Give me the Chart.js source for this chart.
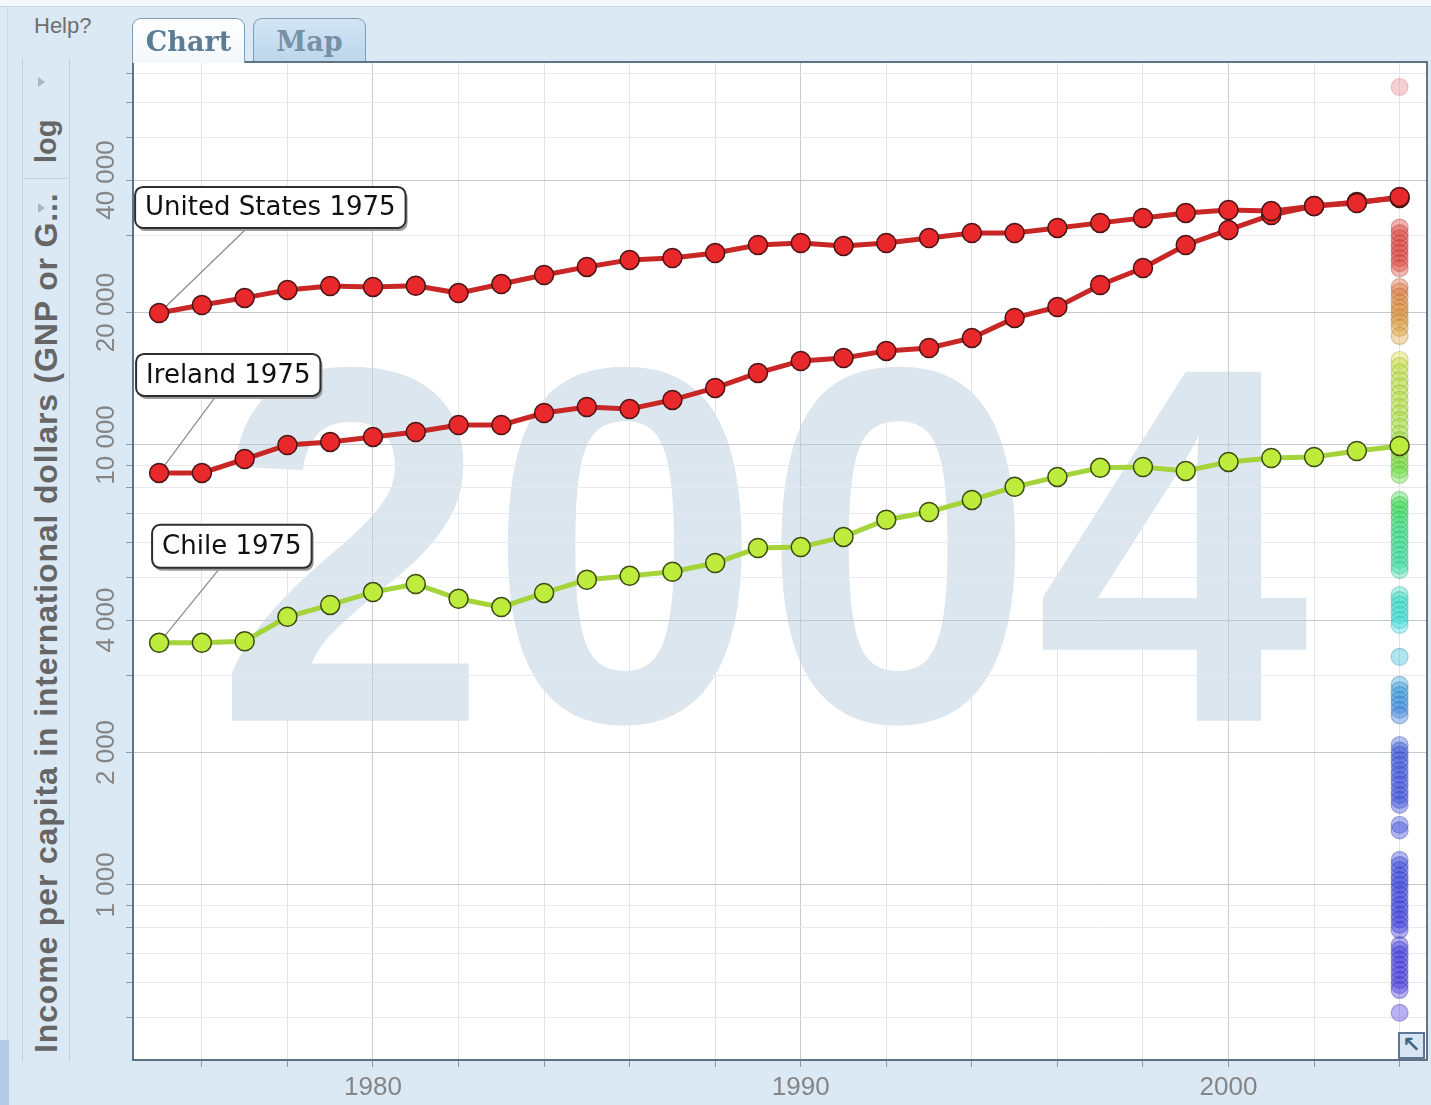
<!DOCTYPE html>
<html>
<head>
<meta charset="utf-8">
<script src="https://cdn.jsdelivr.net/npm/chart.js@4.4.1/dist/chart.umd.min.js"></script>
<style>
  html, body { margin: 0; padding: 0; }
  body {
    width: 1431px; height: 1105px; position: relative; overflow: hidden;
    background: #dbe9f5; font-family: "Liberation Sans", Arial, sans-serif;
  }
  #topStrip { position: absolute; left: 0; top: 0; width: 1431px; height: 6px; background: #f4f8fb; border-bottom: 1px solid #c4d7e7; }
  #edge { position: absolute; left: 7px; top: 7px; width: 1px; height: 1098px; background: #c9dbe9; }
  #corner { position: absolute; left: 0; top: 1040px; width: 9px; height: 65px; background: #b3cbe4; }
  #help { position: absolute; left: 34px; top: 13px; font-size: 22px; color: #6f6f6f; }
  .tab {
    position: absolute; top: 18px; height: 43px; border: 1px solid #7e9db6; border-bottom: none;
    border-radius: 9px 9px 0 0; font: bold 27px "DejaVu Serif", serif; text-align: center;
    line-height: 46px; box-sizing: border-box;
  }
  #tabChart { left: 132px; width: 113px; height: 45px; background: linear-gradient(#ffffff, #f3f8fc); color: #5d7c95; z-index: 3; }
  #tabMap { left: 253px; width: 113px; background: linear-gradient(#d3e5f4, #bcd6ec); color: #7891a7; }
  #sideCol { position: absolute; left: 22px; top: 58px; width: 46px; height: 1004px; border-left: 1px solid #bdd2e3; border-right: 1px solid #bdd2e3; }
  #logBtn { position: absolute; left: 24px; top: 60px; width: 44px; height: 118px; border-bottom: 1px solid #bdd2e3; }
  .tri { position: absolute; left: 38px; width: 0; height: 0; border-top: 5px solid transparent; border-bottom: 5px solid transparent; border-left: 7px solid #a9b6c2; }
  .vtext {
    position: absolute; transform-origin: 0 0; transform: rotate(-90deg);
    font-weight: bold; color: #666; white-space: nowrap;
  }
  #logText { left: 30px; top: 163px; font-size: 29px; }
  #axisTitle { left: 28px; top: 1053px; font-size: 32px; letter-spacing: 0.85px; }
  #resize {
    position: absolute; left: 1398px; top: 1032px; width: 27px; height: 27px; box-sizing: border-box;
    border: 2px solid #5b7793; background: #d7e6f2; color: #3f6484;
    font: bold 22px "DejaVu Sans"; line-height: 22px; text-align: center; z-index: 3;
  }
  #chartBox { position: absolute; left: 0; top: 0; width: 1431px; height: 1105px; z-index: 2; }
</style>
</head>
<body>
<div id="topStrip"></div>
<div id="edge"></div>
<div id="corner"></div>
<div id="help">Help?</div>
<div class="tab" id="tabChart">Chart</div>
<div class="tab" id="tabMap">Map</div>
<div id="sideCol"></div>
<div id="logBtn"></div>
<div class="tri" style="top:77px"></div>
<div class="tri" style="top:203px"></div>
<div class="vtext" id="logText">log</div>
<div class="vtext" id="axisTitle">Income per capita in international dollars (GNP or G...</div>
<div id="chartBox"><canvas id="chart" width="1431" height="1105"></canvas></div>
<div id="resize">↖</div>

<script>
// Anos e renda per capita (dólares internacionais)
const years = [1975, 1976, 1977, 1978, 1979, 1980, 1981, 1982, 1983, 1984,
  1985, 1986, 1987, 1988, 1989, 1990, 1991, 1992, 1993, 1994,
  1995, 1996, 1997, 1998, 1999, 2000, 2001, 2002, 2003, 2004];

const usIncome = [19950, 20800, 21590, 22510, 22980, 22870, 23000, 22140, 23210, 24340,
  25390, 26340, 26610, 27310, 28480, 28780, 28340, 28780, 29530, 30330,
  30330, 31140, 31970, 32810, 33680, 34210, 34000, 34930, 35480, 36620];

const irelandIncome = [8640, 8640, 9290, 10000, 10160, 10430, 10700, 11100, 11100, 11820,
  12200, 12070, 12660, 13480, 14580, 15520, 15760, 16360, 16610, 17510,
  19440, 20590, 23100, 25240, 28480, 30810, 33320, 34930, 35660, 36420];

const chileIncome = [3550, 3550, 3580, 4070, 4330, 4630, 4830, 4470, 4280, 4610,
  4940, 5040, 5150, 5390, 5830, 5860, 6180, 6760, 7040, 7500,
  8030, 8460, 8870, 8910, 8730, 9150, 9340, 9390, 9690, 9950];

// Outros países em 2004 (coluna de pontos à direita)
const otherYear = 2004;
const others2004 = [65100, 31200, 30300, 29500, 28700, 28000, 27300, 26600, 25900, 25200,
  22860, 22300, 21700, 21020, 20500, 20050, 19500, 19000, 18450, 17690,
  15600, 15100, 14600, 14050, 13600, 13100, 12660, 12200, 11800, 11400,
  11000, 10600, 10260, 9750, 9490, 9250, 9010, 8780, 8550, 7500,
  7300, 7120, 6940, 6760, 6580, 6410, 6250, 6090, 5930, 5770,
  5620, 5480, 5330, 5200, 4560, 4440, 4330, 4220, 4110, 4000,
  3900, 3300, 2850, 2770, 2700, 2630, 2570, 2500, 2430, 2080,
  2020, 1975, 1920, 1875, 1820, 1780, 1730, 1690, 1640, 1600,
  1560, 1520, 1370, 1330, 1140, 1110, 1080, 1050, 1025, 1000,
  975, 950, 925, 900, 880, 855, 835, 812, 790, 730,
  712, 694, 676, 658, 641, 624, 608, 592, 577, 512];

const seriesNames = ['United States', 'Ireland', 'Chile'];
const labelYear = 1975;
const watermarkYear = '2004';

// Eixos
const xTickYears = [1976, 1978, 1980, 1982, 1984, 1986, 1988, 1990, 1992, 1994, 1996, 1998, 2000, 2002, 2004];
const xLabelYears = [1980, 1990, 2000];
const yGridValues = [500, 600, 700, 800, 900, 1000, 2000, 3000, 4000, 5000, 6000, 7000, 8000, 9000,
  10000, 20000, 30000, 40000, 50000, 60000, 70000];
const yLabelValues = [1000, 2000, 4000, 10000, 20000, 40000];

const toPoints = (vals) => vals.map((v, i) => ({ x: years[i], y: v }));

// Cor por renda (vermelho = rico, azul/roxo = pobre)
const hueStops = [[60000, 0], [26000, 2], [21000, 28], [17000, 42], [15000, 72], [10500, 82],
  [9000, 98], [6500, 145], [4500, 170], [3300, 192], [2600, 208], [2000, 230], [1000, 236], [500, 248]];
function hueFor(v) {
  if (v >= hueStops[0][0]) return hueStops[0][1];
  for (let i = 1; i < hueStops.length; i++) {
    const [v1, h1] = hueStops[i - 1], [v2, h2] = hueStops[i];
    if (v >= v2) {
      const t = (Math.log(v1) - Math.log(v)) / (Math.log(v1) - Math.log(v2));
      return h1 + (h2 - h1) * t;
    }
  }
  return hueStops[hueStops.length - 1][1];
}
const otherFill = others2004.map(v => v > 50000 ? 'rgba(225,120,130,0.35)' : `hsla(${hueFor(v)},70%,55%,0.4)`);
const otherLine = others2004.map(v => v > 50000 ? 'rgba(210,110,120,0.3)' : `hsla(${hueFor(v)},60%,38%,0.35)`);

const fmtNum = (v) => String(v).replace(/\B(?=(\d{3})+(?!\d))/g, ' ');

const labelStyle = [
  { ds: 0, dx: -24, dy: -126, h: 41, lead: 88 },
  { ds: 1, dx: -23, dy: -119, h: 42, lead: 57 },
  { ds: 2, dx: -7, dy: -118, h: 43, lead: 61 }
];

function roundRect(ctx, x, y, w, h, r) {
  ctx.beginPath();
  ctx.moveTo(x + r, y);
  ctx.arcTo(x + w, y, x + w, y + h, r);
  ctx.arcTo(x + w, y + h, x, y + h, r);
  ctx.arcTo(x, y + h, x, y, r);
  ctx.arcTo(x, y, x + w, y, r);
  ctx.closePath();
}

const decor = {
  id: 'decor',
  beforeDraw(chart) {
    const { ctx, chartArea: a } = chart;
    ctx.save();
    ctx.fillStyle = '#ffffff';
    ctx.fillRect(a.left, a.top, a.width, a.height);
    // ano grande ao fundo
    ctx.fillStyle = '#dbe6ef';
    ctx.font = 'bold 507px "Liberation Sans"';
    ctx.textAlign = 'center';
    ctx.textBaseline = 'alphabetic';
    ctx.translate(a.left + a.width * 0.486, a.top + a.height * 0.66);
    ctx.scale(0.97, 1);
    ctx.fillText(watermarkYear, 0, 0);
    ctx.restore();
  },
  beforeDatasetsDraw(chart) {
    const { ctx, chartArea: a, scales } = chart;
    ctx.save();
    // moldura do gráfico
    ctx.strokeStyle = '#5f7385';
    ctx.lineWidth = 2;
    ctx.strokeRect(a.left, a.top, a.width, a.height);
    // rótulos do eixo Y (girados)
    ctx.fillStyle = '#858585';
    ctx.font = '26px "Liberation Sans"';
    ctx.textAlign = 'center';
    ctx.textBaseline = 'middle';
    yLabelValues.forEach(v => {
      const y = scales.y.getPixelForValue(v);
      ctx.save();
      ctx.translate(a.left - 26, y);
      ctx.rotate(-Math.PI / 2);
      ctx.fillText(fmtNum(v), 0, 0);
      ctx.restore();
    });
    // rótulos do eixo X
    xLabelYears.forEach(v => {
      ctx.fillText(String(v), scales.x.getPixelForValue(v), a.bottom + 28);
    });
    // linhas-guia das etiquetas
    ctx.strokeStyle = '#8a8a8a';
    ctx.lineWidth = 1.2;
    labelStyle.forEach(s => {
      const p = chart.getDatasetMeta(s.ds).data[0];
      ctx.beginPath();
      ctx.moveTo(p.x + s.lead, p.y + s.dy + s.h);
      ctx.lineTo(p.x, p.y);
      ctx.stroke();
    });
    ctx.restore();
  },
  afterDatasetsDraw(chart) {
    const { ctx } = chart;
    ctx.save();
    ctx.font = '26px "DejaVu Sans"';
    ctx.textBaseline = 'middle';
    labelStyle.forEach(s => {
      const p = chart.getDatasetMeta(s.ds).data[0];
      const text = seriesNames[s.ds] + ' ' + labelYear;
      const w = ctx.measureText(text).width + 20;
      const x = p.x + s.dx, y = p.y + s.dy;
      roundRect(ctx, x + 2, y + 3, w, s.h, 8);
      ctx.fillStyle = '#9a9a9a';
      ctx.fill();
      roundRect(ctx, x, y, w, s.h, 8);
      ctx.fillStyle = '#ffffff';
      ctx.fill();
      ctx.strokeStyle = '#2e2e2e';
      ctx.lineWidth = 2;
      ctx.stroke();
      ctx.fillStyle = '#111';
      ctx.fillText(text, x + 10, y + s.h / 2 + 1);
    });
    ctx.restore();
  }
};

const ctx = document.getElementById('chart').getContext('2d');

new Chart(ctx, {
  type: 'scatter',
  data: {
    datasets: [
      {
        label: seriesNames[0],
        data: toPoints(usIncome),
        showLine: true,
        borderColor: '#c92626',
        borderWidth: 5,
        pointRadius: 9.5,
        pointBackgroundColor: '#e8282b',
        pointBorderColor: '#4a1414',
        pointBorderWidth: 1.5,
        order: 1
      },
      {
        label: seriesNames[1],
        data: toPoints(irelandIncome),
        showLine: true,
        borderColor: '#c92626',
        borderWidth: 5,
        pointRadius: 9.5,
        pointBackgroundColor: '#e8282b',
        pointBorderColor: '#4a1414',
        pointBorderWidth: 1.5,
        order: 1
      },
      {
        label: seriesNames[2],
        data: toPoints(chileIncome),
        showLine: true,
        borderColor: '#a4d43a',
        borderWidth: 5,
        pointRadius: 9.5,
        pointBackgroundColor: '#bdec3c',
        pointBorderColor: '#3b4a12',
        pointBorderWidth: 1.5,
        order: 1
      },
      {
        label: 'Outros 2004',
        data: others2004.map(v => ({ x: otherYear, y: v })),
        pointRadius: 8.5,
        pointBackgroundColor: otherFill,
        pointBorderColor: otherLine,
        pointBorderWidth: 1.2,
        order: 3
      }
    ]
  },
  options: {
    responsive: false,
    animation: false,
    layout: { autoPadding: false, padding: { left: 133, top: 62, right: 4, bottom: 45 } },
    plugins: {
      legend: { display: false },
      tooltip: { enabled: false }
    },
    scales: {
      x: {
        type: 'linear',
        min: 1974.39,
        max: 2004.64,
        afterFit: (s) => { s.height = 0; s.paddingLeft = 0; s.paddingRight = 0; },
        afterBuildTicks: (s) => { s.ticks = xTickYears.map(v => ({ value: v })); },
        border: { display: false },
        grid: {
          color: (c) => (c.tick && c.tick.value % 10 === 0) ? '#c7ccd3' : '#e1e5ea',
          tickLength: 7,
          tickColor: '#8d98a3'
        },
        ticks: { display: false }
      },
      y: {
        type: 'logarithmic',
        min: 400,
        max: 74200,
        afterFit: (s) => { s.width = 0; s.paddingTop = 0; s.paddingBottom = 0; },
        afterBuildTicks: (s) => { s.ticks = yGridValues.map(v => ({ value: v })); },
        border: { display: false },
        grid: {
          color: (c) => (c.tick && yLabelValues.includes(c.tick.value)) ? '#c4c9cf' : '#e6e9ed',
          tickLength: 7,
          tickColor: '#8d98a3'
        },
        ticks: { display: false }
      }
    }
  },
  plugins: [decor]
});
</script>
</body>
</html>
